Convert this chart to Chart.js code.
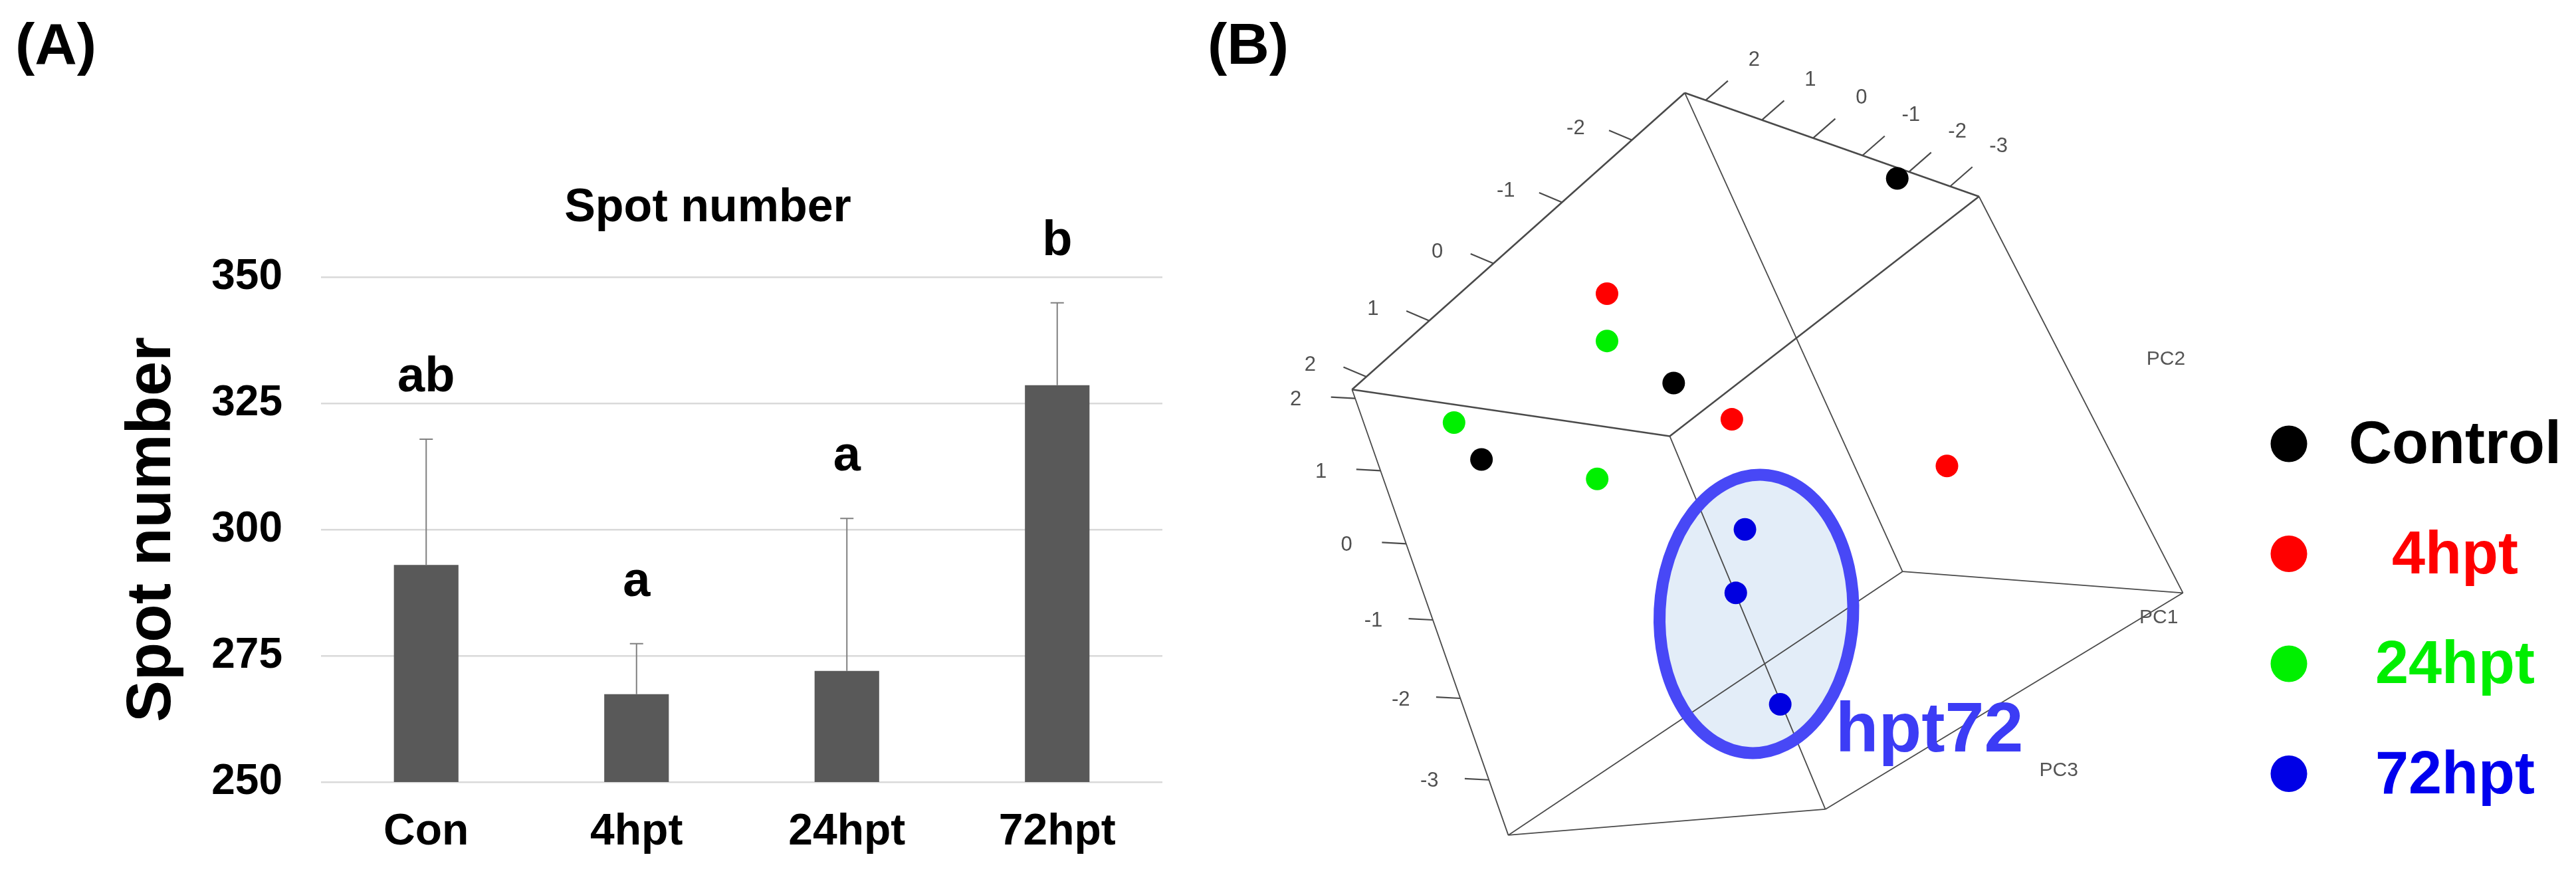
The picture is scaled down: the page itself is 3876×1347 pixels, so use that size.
<!DOCTYPE html>
<html><head><meta charset="utf-8">
<script src="https://cdn.jsdelivr.net/npm/chart.js@4/dist/chart.umd.min.js"></script>
<style>
html,body{margin:0;padding:0;background:#fff;width:3876px;height:1347px;overflow:hidden;}
canvas{position:absolute;top:0;}
#ca{left:0;} #cb{left:1800px;}
</style></head><body>
<canvas id="ca" width="1800" height="1347" style="width:1800px;height:1347px"></canvas>
<canvas id="cb" width="2076" height="1347" style="width:2076px;height:1347px"></canvas>
<script>
// ================= Panel A data =================
const panelALabel = '(A)';
const categories = ['Con', '4hpt', '24hpt', '72hpt'];
const spotMeans  = [293.0, 267.4, 272.0, 328.6];
const spotSD     = [24.9, 10.0, 30.2, 16.3];
const sigLetters = ['ab', 'a', 'a', 'b'];
const yTicksA    = [250, 275, 300, 325, 350];
const titleA     = 'Spot number';
const yTitleA    = 'Spot number';

// ================= Panel B data (projected PCA plot plane) =================
const panelBLabel = '(B)';
const groupNames  = ['Control', '4hpt', '24hpt', '72hpt'];
const groupColors = ['#000000', '#ff0000', '#00f000', '#0000e0'];
const controlPts  = [[2855, 258], [2513, 574], [2219, 692]];
const hpt4Pts     = [[2411, 436], [2602, 630], [2931, 702]];
const hpt24Pts    = [[2411, 509], [2177, 635], [2396, 722]];
const hpt72Pts    = [[2622, 800], [2608, 898], [2676, 1070]];
const boxVertices = {T: [2530, 126], R: [2980, 286], F: [2507, 656], L: [2021, 584],
                     BB: [2863, 865], BR: [3292, 898], BF: [2745, 1232], B: [2260, 1272]};
const boxEdges = [['T','R'], ['R','F'], ['F','L'], ['L','T'],
                  ['BB','BR'], ['BR','BF'], ['BF','B'], ['B','BB'],
                  ['T','BB'], ['R','BR'], ['F','BF'], ['L','B']];
const axisTLLabels = ['-2', '-1', '0', '1', '2'];
const axisTLPos    = [0.159, 0.369, 0.575, 0.768, 0.957];
const axisTRLabels = ['2', '1', '0', '-1', '-2', '-3'];
const axisTRPos    = [0.071, 0.262, 0.436, 0.604, 0.762, 0.902];
const axisLBLabels = ['2', '1', '0', '-1', '-2', '-3'];
const axisLBPos    = [0.020, 0.182, 0.346, 0.517, 0.693, 0.876];
const pcNames = ['PC2', 'PC1', 'PC3'];
const pcPos   = [[3266, 537], [3255, 936], [3102, 1172]];
const clusterLabel = 'hpt72';
const clusterEllipse = [2639.5, 930.5, 148, 215]; // cx, cy, rx, ry

// ================= styles =================
const SANS = '"Liberation Sans", Arial, Helvetica, sans-serif';

// ---------- Panel A ----------
const annotA = {
  id: 'annotA',
  afterDraw(chart) {
    const {ctx, scales: {x, y}} = chart;
    const meta = chart.getDatasetMeta(0);
    ctx.save();
    meta.data.forEach((bar, i) => {
      const xp = bar.x;
      const yTop = y.getPixelForValue(spotMeans[i] + spotSD[i]);
      const yMean = y.getPixelForValue(spotMeans[i]);
      ctx.strokeStyle = '#808080';
      ctx.lineWidth = 2;
      ctx.beginPath();
      ctx.moveTo(xp, yMean); ctx.lineTo(xp, yTop);
      ctx.moveTo(xp - 10, yTop); ctx.lineTo(xp + 10, yTop);
      ctx.stroke();
      ctx.fillStyle = '#000';
      ctx.font = 'bold 74px ' + SANS;
      ctx.textAlign = 'center';
      ctx.textBaseline = 'alphabetic';
      ctx.fillText(sigLetters[i], xp, y.getPixelForValue(spotMeans[i] + spotSD[i] + 9.5));
    });
    ctx.fillStyle = '#000';
    ctx.font = 'bold 70px ' + SANS;
    ctx.textAlign = 'center';
    ctx.textBaseline = 'middle';
    ctx.fillText(titleA, 1065, 314);
    ctx.font = 'bold 88px ' + SANS;
    ctx.textAlign = 'left';
    ctx.textBaseline = 'alphabetic';
    ctx.fillText(panelALabel, 23, 96);
    ctx.restore();
  }
};

new Chart(document.getElementById('ca'), {
  type: 'bar',
  data: {labels: categories,
         datasets: [{label: titleA, data: spotMeans, backgroundColor: '#595959', borderWidth: 0,
                     barPercentage: 0.307, categoryPercentage: 1}]},
  options: {
    responsive: false, animation: false, devicePixelRatio: 1,
    layout: {padding: {left: 150, right: 51, top: 417, bottom: 50}},
    plugins: {legend: {display: false}, tooltip: {enabled: false}},
    scales: {
      x: {grid: {display: false, drawTicks: false}, border: {display: false},
          ticks: {color: '#000', font: {family: SANS, size: 66, weight: 'bold'}, padding: 36},
          afterFit(s) { s.height = 120; }},
      y: {min: 250, max: 350,
          afterBuildTicks(s) { s.ticks = yTicksA.map(v => ({value: v})); },
          ticks: {color: '#000', font: {family: SANS, size: 64, weight: 'bold'}, padding: 58},
          grid: {color: '#d9d9d9', lineWidth: 2.5, drawTicks: false}, border: {display: false},
          title: {display: true, text: yTitleA, color: '#000',
                  font: {family: SANS, size: 94, weight: 'bold'}, padding: {top: 24, bottom: 0}},
          afterFit(s) { s.width = 333; }}
    }
  },
  plugins: [annotA]
});

// ---------- Panel B ----------
const groups = [controlPts, hpt4Pts, hpt24Pts, hpt72Pts];
const vtx = k => ({x: boxVertices[k][0], y: boxVertices[k][1]});
const bDatasets = [];
groups.forEach((pts, i) => bDatasets.push({
  label: groupNames[i], data: pts.map(p => ({x: p[0], y: p[1]})),
  backgroundColor: groupColors[i], borderColor: groupColors[i], borderWidth: 0,
  pointRadius: 17, pointHoverRadius: 17, showLine: false, order: 0, clip: false
}));
boxEdges.forEach((e, k) => bDatasets.push({
  label: 'edge', data: [vtx(e[0]), vtx(e[1])], showLine: true,
  borderColor: '#4a4a4a', borderWidth: k < 4 ? 2.6 : 1.8,
  pointRadius: 0, pointHoverRadius: 0, order: 1, clip: false
}));

const axes3d = [
  {from: 'T', to: 'L', labels: axisTLLabels, pos: axisTLPos, tick: [-35, -15], lab: [-86, -18]},
  {from: 'T', to: 'R', labels: axisTRLabels, pos: axisTRPos, tick: [34, -30], lab: [74, -62]},
  {from: 'L', to: 'B', labels: axisLBLabels, pos: axisLBPos, tick: [-37, -2], lab: [-91, 2]}
];

const annotB = {
  id: 'annotB',
  beforeDatasetsDraw(chart) {
    const {ctx, scales: {x, y}} = chart;
    const [cx, cy, rx, ry] = clusterEllipse;
    ctx.save();
    ctx.beginPath();
    ctx.ellipse(x.getPixelForValue(cx), y.getPixelForValue(cy),
                Math.abs(x.getPixelForValue(cx + rx) - x.getPixelForValue(cx)),
                Math.abs(y.getPixelForValue(cy + ry) - y.getPixelForValue(cy)), 0.05, 0, Math.PI * 2);
    ctx.fillStyle = '#e3edf8';
    ctx.fill();
    ctx.restore();
  },
  afterDatasetsDraw(chart) {
    const {ctx, scales: {x, y}} = chart;
    ctx.save();
    // axis ticks and labels
    axes3d.forEach(ax => {
      const a = boxVertices[ax.from], b = boxVertices[ax.to];
      ax.pos.forEach((t, i) => {
        const bx = a[0] + (b[0] - a[0]) * t, by = a[1] + (b[1] - a[1]) * t;
        ctx.strokeStyle = '#4a4a4a'; ctx.lineWidth = 2.2;
        ctx.beginPath();
        ctx.moveTo(x.getPixelForValue(bx), y.getPixelForValue(by));
        ctx.lineTo(x.getPixelForValue(bx + ax.tick[0]), y.getPixelForValue(by + ax.tick[1]));
        ctx.stroke();
        ctx.fillStyle = '#505050';
        ctx.font = '31px ' + SANS;
        ctx.textAlign = 'center'; ctx.textBaseline = 'middle';
        ctx.fillText(ax.labels[i], x.getPixelForValue(bx + ax.lab[0]), y.getPixelForValue(by + ax.lab[1]));
      });
    });
    pcNames.forEach((n, i) => {
      ctx.fillStyle = '#555';
      ctx.font = '30px ' + SANS;
      ctx.textAlign = 'center'; ctx.textBaseline = 'middle';
      ctx.fillText(n, x.getPixelForValue(pcPos[i][0]), y.getPixelForValue(pcPos[i][1]));
    });
    // cluster ring
    const [cx, cy, rx, ry] = clusterEllipse;
    ctx.beginPath();
    ctx.ellipse(x.getPixelForValue(cx), y.getPixelForValue(cy),
                Math.abs(x.getPixelForValue(cx + rx) - x.getPixelForValue(cx)),
                Math.abs(y.getPixelForValue(cy + ry) - y.getPixelForValue(cy)), 0.05, 0, Math.PI * 2);
    ctx.strokeStyle = '#4848f6';
    ctx.lineWidth = 18;
    ctx.stroke();
    ctx.fillStyle = '#3c3cf5';
    ctx.font = 'bold 106px ' + SANS;
    ctx.textAlign = 'left'; ctx.textBaseline = 'alphabetic';
    ctx.fillText(clusterLabel, x.getPixelForValue(cx + 121), y.getPixelForValue(cy + 212));
    // legend
    groupNames.forEach((n, i) => {
      const ly = 668 + i * 165.5;
      ctx.fillStyle = groupColors[i] === '#0000e0' ? '#0000e6' : groupColors[i];
      ctx.beginPath();
      ctx.arc(3444 - 1800, ly, 27.5, 0, Math.PI * 2);
      ctx.fill();
      ctx.fillStyle = i === 2 ? '#00ee00' : (i === 3 ? '#0000ee' : groupColors[i]);
      ctx.font = 'bold 90px ' + SANS;
      ctx.textAlign = 'center'; ctx.textBaseline = 'alphabetic';
      ctx.fillText(n, 3694 - 1800, ly + 29);
    });
    ctx.fillStyle = '#000';
    ctx.font = 'bold 88px ' + SANS;
    ctx.textAlign = 'left';
    ctx.fillText(panelBLabel, 1817 - 1800, 96);
    ctx.restore();
  }
};

new Chart(document.getElementById('cb'), {
  type: 'scatter',
  data: {datasets: bDatasets},
  options: {
    responsive: false, animation: false, devicePixelRatio: 1,
    layout: {padding: 0},
    plugins: {legend: {display: false}, tooltip: {enabled: false}},
    scales: {
      x: {type: 'linear', display: false, min: 1800, max: 3876},
      y: {type: 'linear', display: false, min: 0, max: 1347, reverse: true}
    }
  },
  plugins: [annotB]
});
</script>
</body></html>
